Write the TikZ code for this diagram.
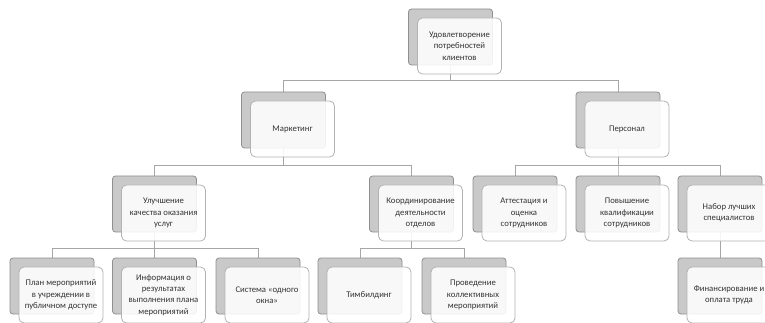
\documentclass[tikz,border=0pt]{standalone}
\usepackage{fontspec}
\setmainfont{Carlito}
\usetikzlibrary{backgrounds}
\definecolor{backfill}{HTML}{C9C9C9}
\definecolor{backline}{HTML}{8F8F8F}
\definecolor{frontline}{HTML}{B3B3B3}
\definecolor{linkc}{HTML}{A6A6A6}
\definecolor{txt}{HTML}{333333}
\newcommand\orgbox[4]{%
  \node[backbox] (#1-b) at (#2,#3+28) {};
  \node[frontbox] (#1) at (#2+9,#3+37) {#4};}
\begin{document}
\begin{tikzpicture}[x=1pt,y=-1pt,
  backbox/.style={draw=backline, fill=backfill, rounded corners=3pt,
    minimum width=84pt, minimum height=56pt, inner sep=0pt, line width=0.8pt},
  frontbox/.style={draw=frontline, fill=white, fill opacity=0.88, text opacity=1,
    rounded corners=5pt, minimum width=84pt, minimum height=56pt, inner sep=1pt,
    align=center, font=\fontsize{8.7}{11.3}\selectfont, text=txt, line width=0.8pt},
  link/.style={draw=linkc, line width=1pt}]
\useasboundingbox (0,0) rectangle (765,323);
\clip (0,0) rectangle (765,323);
\coordinate (bus0) at (0,81);
\coordinate (bus1) at (0,166);
\coordinate (bus2) at (0,248);

\orgbox{root}{450.5}{9}{Удовлетворение\\потребностей\\клиентов}
\orgbox{mkt}{283.5}{92}{Маркетинг}
\orgbox{per}{618}{92}{Персонал}
\orgbox{qual}{154.5}{176}{Улучшение\\качества оказания\\услуг}
\orgbox{coord}{411.5}{176}{Координирование\\деятельности\\отделов}
\orgbox{att}{515}{176}{Аттестация и\\оценка\\сотрудников}
\orgbox{pov}{618}{176}{Повышение\\квалификации\\сотрудников}
\orgbox{nab}{720}{176}{Набор лучших\\специалистов}
\orgbox{plan}{52}{258}{План мероприятий\\в учреждении в\\публичном доступе}
\orgbox{info}{154.5}{258}{Информация о\\результатах\\выполнения плана\\мероприятий}
\orgbox{sys}{258}{258}{Система «одного\\окна»}
\orgbox{tim}{360}{258}{Тимбилдинг}
\orgbox{prov}{464}{258}{Проведение\\коллективных\\мероприятий}
\orgbox{fin}{720}{258}{Финансирование и\\оплата труда}

\begin{pgfonlayer}{background}
\draw[link] (root-b.center) -- (root-b.center |- bus0) -| (mkt-b.center);
\draw[link] (root-b.center) -- (root-b.center |- bus0) -| (per-b.center);
\draw[link] (mkt-b.center) -- (mkt-b.center |- bus1) -| (qual-b.center);
\draw[link] (mkt-b.center) -- (mkt-b.center |- bus1) -| (coord-b.center);
\draw[link] (per-b.center) -- (per-b.center |- bus1) -| (att-b.center);
\draw[link] (per-b.center) -- (per-b.center |- bus1) -| (pov-b.center);
\draw[link] (per-b.center) -- (per-b.center |- bus1) -| (nab-b.center);
\draw[link] (qual-b.center) -- (qual-b.center |- bus2) -| (plan-b.center);
\draw[link] (qual-b.center) -- (qual-b.center |- bus2) -| (info-b.center);
\draw[link] (qual-b.center) -- (qual-b.center |- bus2) -| (sys-b.center);
\draw[link] (coord-b.center) -- (coord-b.center |- bus2) -| (tim-b.center);
\draw[link] (coord-b.center) -- (coord-b.center |- bus2) -| (prov-b.center);
\draw[link] (nab-b.center) -- (fin-b.center);
\end{pgfonlayer}
\end{tikzpicture}
\end{document}
